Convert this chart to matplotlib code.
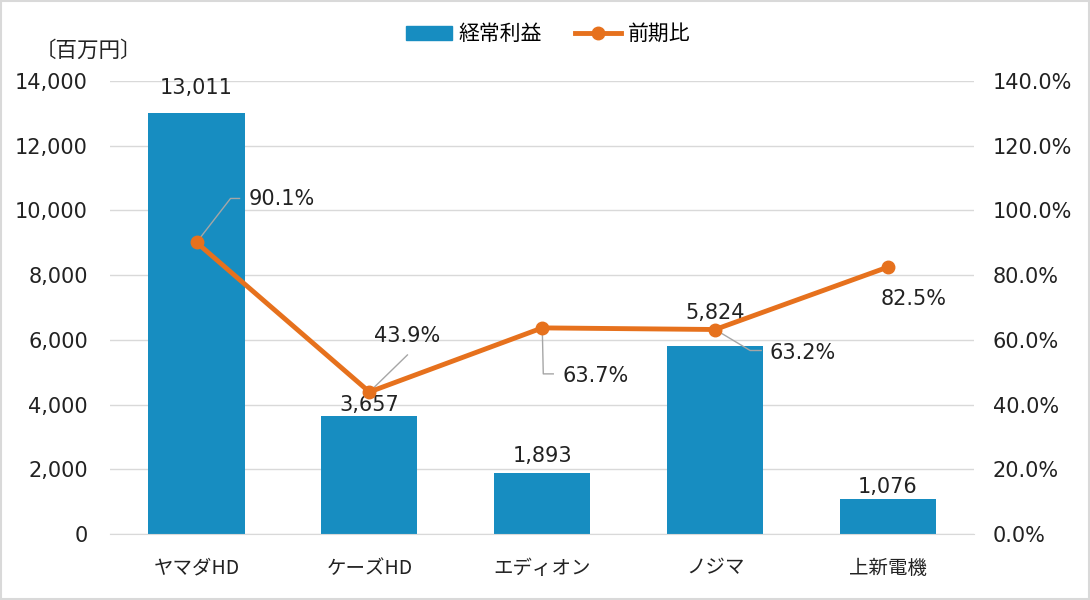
import matplotlib.pyplot as plt
import numpy as np
from matplotlib.patches import Rectangle
from matplotlib.lines import Line2D

plt.rcParams['font.family'] = ['DejaVu Sans', 'Noto Sans CJK JP']

companies = ['ヤマダHD', 'ケーズHD', 'エディオン', 'ノジマ', '上新電機']
profit = [13011, 3657, 1893, 5824, 1076]
ratio = [90.1, 43.9, 63.7, 63.2, 82.5]
profit_labels = ['13,011', '3,657', '1,893', '5,824', '1,076']
ratio_labels = ['90.1%', '43.9%', '63.7%', '63.2%', '82.5%']

bar_color = '#178dc1'
line_color = '#e6711d'
grid_color = '#d9d9d9'
PX = 0.72  # points per pixel at dpi 100

fig = plt.figure(figsize=(10.9, 6), dpi=100)
ax = fig.add_axes([0.101, 0.11, 0.793, 0.755])
ax2 = ax.twinx()

x = np.arange(len(companies))
ax.bar(x, profit, width=0.556, color=bar_color, zorder=2)
ax.set_xlim(-0.5, 4.5)
ax.set_ylim(0, 14000)
ax.set_yticks(np.arange(0, 14001, 2000))
ax.set_yticklabels([f'{v:,}' for v in range(0, 14001, 2000)])
ax.yaxis.grid(True, color=grid_color, lw=1, zorder=0)
ax.set_axisbelow(True)
ax.set_xticks(x)
ax.set_xticklabels(companies, family='Noto Sans CJK JP')
for s in ax.spines.values():
    s.set_visible(False)
for s in ax2.spines.values():
    s.set_visible(False)
ax.spines['bottom'].set_visible(True)
ax.spines['bottom'].set_color(grid_color)
ax.tick_params(axis='both', length=0, labelsize=15, colors='#222222')
ax.tick_params(axis='x', labelsize=14, pad=17)
ax.tick_params(axis='y', pad=16)

ax2.plot(x, ratio, color=line_color, lw=3.5, marker='o', ms=9, zorder=3)
ax2.set_ylim(0, 140)
ax2.set_yticks(np.arange(0, 141, 20))
ax2.set_yticklabels([f'{v:.1f}%' for v in range(0, 141, 20)])
ax2.tick_params(axis='y', length=0, labelsize=15, colors='#222222', pad=13)

# bar value labels (offset in px above bar top)
bar_offsets = [25, 11, 17, 33, 12]
for xi, v, lab, off in zip(x, profit, profit_labels, bar_offsets):
    ax.annotate(lab, (xi, v), xytext=(0, off * PX), textcoords='offset points',
                ha='center', va='center', fontsize=15, color='#222222')

# ratio labels (offsets in px)
ptxt = [(52, 43), (38, 56), (20, -48), (54, -23), (26, -32)]
has = ['left', 'center', 'left', 'left', 'center']
for i, (xi, v, lab) in enumerate(zip(x, ratio, ratio_labels)):
    dx, dy = ptxt[i]
    ax2.annotate(lab, (xi, v), xytext=(dx * PX, dy * PX), textcoords='offset points',
                 ha=has[i], va='center', fontsize=15, color='#222222', zorder=5)

def leader(i, pts):
    disp = ax2.transData.transform((x[i], ratio[i]))
    xy = np.array([(disp[0] + dx, disp[1] + dy) for dx, dy in pts])
    d = ax2.transData.inverted().transform(xy)
    ax2.plot(d[:, 0], d[:, 1], color='#a6a6a6', lw=1, zorder=2.5)

fig.canvas.draw()
leader(0, [(0, 0), (34, 44), (43, 44)])
leader(1, [(0, 0), (38, 37)])
leader(2, [(0, 0), (1, -46), (11, -46)])
leader(3, [(0, 0), (35, -21), (46, -21)])

# legend
handles = [Rectangle((0, 0), 1, 1, color=bar_color),
           Line2D([], [], color=line_color, lw=3.5, marker='o', ms=9)]
fig.legend(handles, ['経常利益', '前期比'], loc='center', bbox_to_anchor=(0.503, 0.943),
           ncol=2, frameon=False, prop={'family': ['Noto Sans CJK JP'], 'size': 15},
           handlelength=2.2, columnspacing=1.6, handletextpad=0.3)

fig.text(0.032, 0.915, '〔百万円〕', fontsize=15.5, family=['Noto Sans CJK JP'],
         va='center', color='#222222')

fig.patches.append(Rectangle((0.001, 0.002), 0.998, 0.996, transform=fig.transFigure,
                             fill=False, edgecolor='#d9d9d9', lw=1.5))

fig.savefig('out.png', dpi=100)
